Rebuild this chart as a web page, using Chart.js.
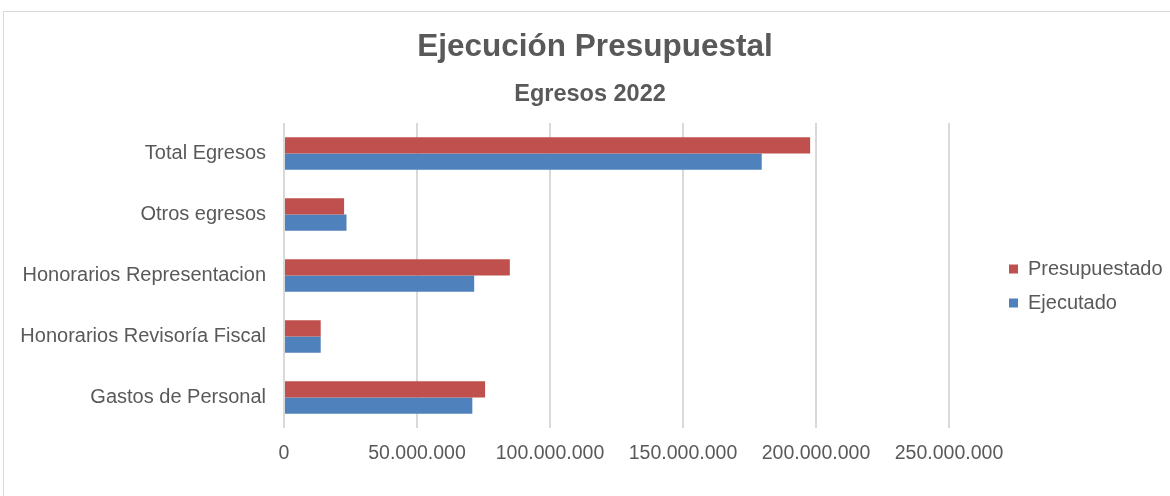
<!DOCTYPE html>
<html>
<head>
<meta charset="utf-8">
<script src="https://cdn.jsdelivr.net/npm/chart.js@4"></script>
<style>
  body { margin: 0; background: #fff; }
  #frame { position: absolute; left: 3px; top: 11px; width: 1300px; height: 600px; border: 1px solid #d9d9d9; }
  #wrap { position: absolute; left: 0; top: 0; width: 1170px; height: 496px; }
</style>
</head>
<body>
<div id="frame"></div>
<div id="wrap"><canvas id="myChart"></canvas></div>
<script>
const categorias = [
    'Total Egresos',
    'Otros egresos',
    'Honorarios Representacion',
    'Honorarios Revisoría Fiscal',
    'Gastos de Personal',
];
const presupuestado = [197800000, 22600000, 84900000, 13800000, 75600000];
const ejecutado = [179600000, 23500000, 71500000, 13800000, 70800000];
const ticksX = [0, 50000000, 100000000, 150000000, 200000000, 250000000];

const titulo = 'Ejecución Presupuestal';
const subtitulo = 'Egresos 2022';
const gris = '#595959';

function formato(v) {
    return String(v).replace(/\B(?=(\d{3})+(?!\d))/g, '.');
}

const data = {
    labels: categorias,
    datasets: [{
        label: 'Presupuestado',
        backgroundColor: '#C0504D',
        data: presupuestado
    }, {
        label: 'Ejecutado',
        backgroundColor: '#4F81BD',
        data: ejecutado
    }]
};

// corre la leyenda y los titulos hacia la derecha, como en el original
const ajustarCajas = {
  id: 'ajustarCajas',
  afterLayout(chart) {
    chart.legend.left += 46;
    chart.legend.right += 46;
    chart.boxes.forEach(b => {
      if (!b.options) return;
      let dx = 0;
      if (b.options.text === titulo) dx = 10;
      if (b.options.text === subtitulo) dx = 5;
      b.left += dx;
      b.right += dx;
    });
  }
};

const config = {
  type: 'bar',
  data: data,
  plugins: [ajustarCajas],
  options: {
    indexAxis: 'y',
    maintainAspectRatio: false,
    responsive: true,
    animation: false,
    datasets: {
      bar: { categoryPercentage: 0.53, barPercentage: 1.0 }
    },
    layout: { padding: { left: 0, right: 0, top: 0, bottom: 0 } },
    scales: {
      x: {
        min: 0,
        max: 250000000,
        afterBuildTicks: (axis) => { axis.ticks = ticksX.map(v => ({ value: v })); },
        // deja sitio a la derecha como en el original y fija el alto del eje
        afterFit: (axis) => { axis.paddingRight = 1170 - 949; axis.height = 68; },
        ticks: {
          color: gris,
          font: { family: 'Liberation Sans', size: 19.5 },
          padding: 14,
          callback: (v) => formato(v)
        },
        grid: { color: '#d9d9d9', lineWidth: 2, drawTicks: false },
        border: { display: false }
      },
      y: {
        afterFit: (axis) => { axis.width = 284; },
        ticks: {
          color: gris,
          font: { family: 'Liberation Sans', size: 20 },
          padding: 10
        },
        grid: { display: false },
        border: { display: false }
      }
    },
    plugins: {
      title: {
        display: true,
        text: titulo,
        color: gris,
        font: { family: 'Liberation Sans', size: 31.5, weight: 'bold' },
        padding: { top: 28, bottom: 15 }
      },
      subtitle: {
        display: true,
        text: subtitulo,
        color: gris,
        font: { family: 'Liberation Sans', size: 23.5, weight: 'bold' },
        padding: { bottom: 14 }
      },
      legend: {
        position: 'right',
        title: { display: true, text: ' ', font: { size: 10 }, padding: { top: 64, bottom: 0 } },
        labels: {
          color: gris,
          font: { family: 'Liberation Sans', size: 20 },
          boxWidth: 9,
          boxHeight: 9,
          padding: 14
        }
      },
      tooltip: { enabled: false }
    }
  }
};

const myChart = new Chart(
    document.getElementById('myChart'),
    config
);
</script>
</body>
</html>
